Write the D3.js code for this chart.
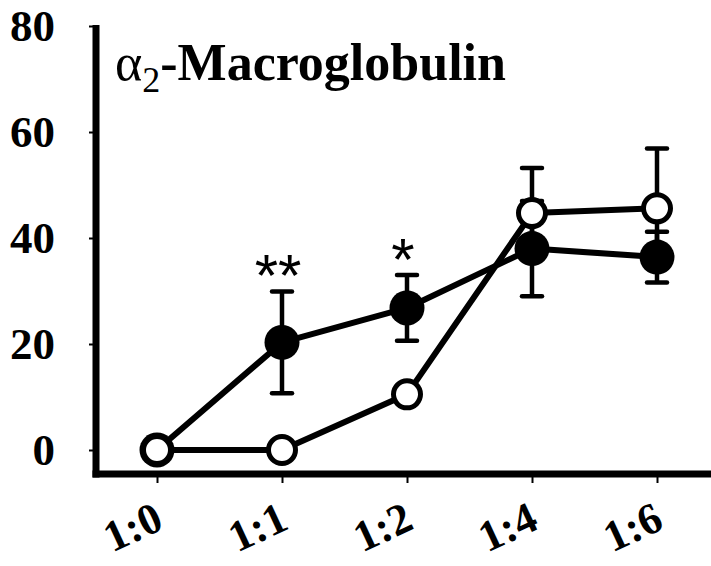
<!DOCTYPE html>
<html><head><meta charset="utf-8">
<script src="https://cdn.jsdelivr.net/npm/d3@7"></script>
<style>
html,body{margin:0;padding:0;background:#fff;}
svg text{font-family:"Liberation Serif","DejaVu Serif","Times New Roman",serif;}
svg text.ast{font-family:"Liberation Sans",Arial,sans-serif;}
</style>
</head><body>
<svg id="c" width="711" height="566"></svg>
<script>
const categories = ["1:0", "1:1", "1:2", "1:4", "1:6"];
const filledValues = [0, 20.3, 26.8, 38.0, 36.4];
const filledErr = [0, 9.6, 6.2, 9.0, 4.8];
const openValues = [0, 0, 10.5, 44.7, 45.6];
const openErr = [0, 0, 0, 8.5, 11.3];
const yTicks = [0, 20, 40, 60, 80];
const marks = [{cat: "1:1", text: "**", v: 29.9}, {cat: "1:2", text: "*", v: 32.9}];

const svg = d3.select("#c");
const x = d3.scalePoint().domain(categories).range([157, 657]);
const y = d3.scaleLinear().domain([0, 80]).range([450, 26]);

// Y axis
const yAxis = svg.append("g").attr("transform", "translate(96,0)")
  .call(d3.axisLeft(y).tickValues(yTicks).tickSize(7).tickPadding(34).tickFormat(d3.format("d")));
yAxis.attr("font-family", null);
yAxis.select(".domain").remove();
yAxis.selectAll(".tick line").attr("stroke", "#000").attr("stroke-width", 2);
yAxis.selectAll(".tick text").attr("font-weight", "bold")
  .attr("font-size", 45).attr("fill", "#000");

// X axis
const xAxis = svg.append("g").attr("transform", "translate(0,474)")
  .call(d3.axisBottom(x).tickSize(9).tickPadding(0));
xAxis.attr("font-family", null);
xAxis.select(".domain").remove();
xAxis.selectAll(".tick line").attr("stroke", "#000").attr("stroke-width", 2);
xAxis.selectAll(".tick text")
  .attr("font-weight", "bold").attr("font-size", 44).attr("fill", "#000")
  .attr("text-anchor", "end").attr("dy", null)
  .attr("x", 8).attr("y", 54)
  .attr("transform", "rotate(-25 8 54)");

// axis lines
svg.append("line").attr("x1", 96).attr("x2", 96).attr("y1", 25).attr("y2", 477.5)
  .attr("stroke", "#000").attr("stroke-width", 7);
svg.append("line").attr("x1", 92.5).attr("x2", 711).attr("y1", 474).attr("y2", 474)
  .attr("stroke", "#000").attr("stroke-width", 7);

// Title
const t = svg.append("text").attr("x", 115).attr("y", 80)
  .attr("font-size", 52).attr("fill", "#000");
t.append("tspan").text("α");
t.append("tspan").attr("font-size", 36).attr("dy", 12).text("2");
t.append("tspan").attr("font-weight", "bold").attr("dy", -12).text("-Macroglobulin");

const filled = categories.map((c, i) => ({c, v: filledValues[i], e: filledErr[i]}));
const open = categories.map((c, i) => ({c, v: openValues[i], e: openErr[i]}));

function errorBars(data) {
  const g = svg.append("g").attr("stroke", "#000").attr("stroke-width", 4.5);
  const d = data.filter(p => p.e > 0);
  g.selectAll(".s").data(d).enter().append("line")
    .attr("x1", p => x(p.c)).attr("x2", p => x(p.c))
    .attr("y1", p => y(p.v - p.e)).attr("y2", p => y(p.v + p.e));
  [1, -1].forEach(s => {
    g.selectAll(".c" + s).data(d).enter().append("line")
      .attr("x1", p => x(p.c) - 10).attr("x2", p => x(p.c) + 10)
      .attr("y1", p => y(p.v + s * p.e)).attr("y2", p => y(p.v + s * p.e))
      .attr("stroke-linecap", "round");
  });
}
errorBars(open);
errorBars(filled);

const line = d3.line().x(p => x(p.c)).y(p => y(p.v));
svg.append("path").datum(filled).attr("d", line).attr("fill", "none")
  .attr("stroke", "#000").attr("stroke-width", 6).attr("stroke-linejoin", "round");
svg.append("path").datum(open).attr("d", line).attr("fill", "none")
  .attr("stroke", "#000").attr("stroke-width", 6).attr("stroke-linejoin", "round");

svg.selectAll(".fc").data(filled).enter().append("circle")
  .attr("cx", p => x(p.c)).attr("cy", p => y(p.v)).attr("r", 17.5).attr("fill", "#000");
svg.selectAll(".oc").data(open).enter().append("circle")
  .attr("cx", p => x(p.c)).attr("cy", p => y(p.v)).attr("r", 13.5)
  .attr("fill", "#fff").attr("stroke", "#000").attr("stroke-width", 5);

// significance marks
svg.selectAll(".m").data(marks).enter().append("text").attr("class", "ast")
  .attr("x", p => x(p.cat) - 4).attr("y", p => y(p.v) + 4)
  .attr("text-anchor", "middle")
  .attr("font-size", 60).attr("fill", "#000").text(p => p.text);
</script>
</body></html>
